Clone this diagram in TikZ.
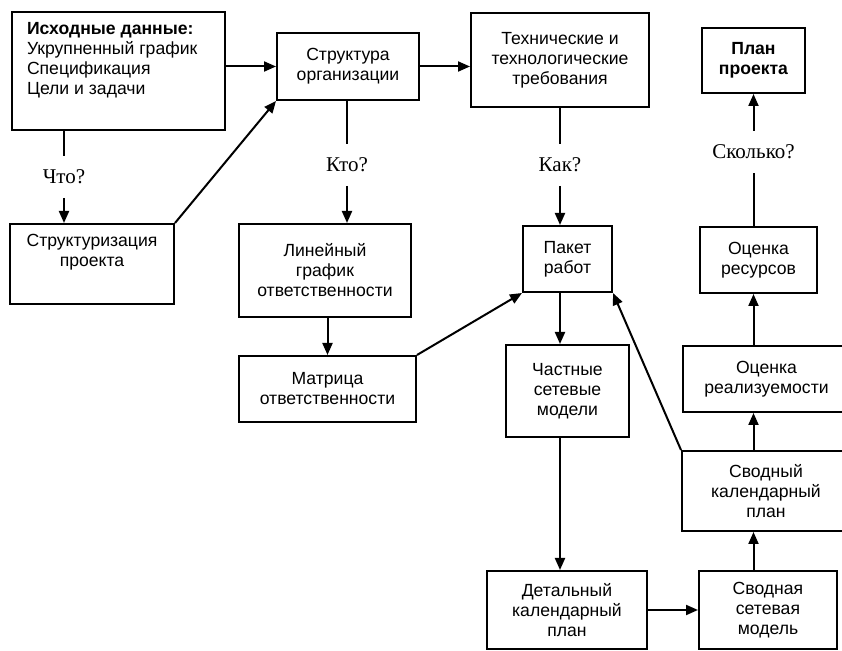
\documentclass[tikz,border=0pt]{standalone}
\usepackage{fontspec}
\setmainfont{Liberation Serif}
\setsansfont{Liberation Sans}
\usetikzlibrary{arrows.meta}
\tikzstyle{box}=[
    draw,
    line width = 1pt,
    rectangle,
    align = center,
    inner sep = 2pt,
    font = \sffamily\fontsize{8.8}{10}\selectfont
]

\begin{document}
\begin{tikzpicture}[x=0.5pt, y=-0.5pt, line width=1pt,
    ask/.style = {inner sep=0pt, minimum height=20pt, font=\fontsize{10.5}{12}\selectfont},
    arr/.style = {-{Triangle[length=6pt, width=5pt]}}]
        \clip (0,0) rectangle (842,651);

        \node[box, minimum width=106.5pt, minimum height=59pt, inner xsep=7.5pt, inner ysep=5pt] (src) at (118.5,71)
            {\parbox[c][49pt][t]{91.5pt}{\raggedright\textbf{Исходные данные:}\\Укрупненный график\\Спецификация\\Цели и задачи}};
        \node[box, minimum width=71pt, minimum height=33.5pt] (org) at (348,66.5) {Структура\\организации};
        \node[box, minimum width=89pt, minimum height=47pt] (tech) at (560,60) {Технические и\\технологические\\требования};
        \node[box, minimum width=51.5pt, minimum height=32.5pt] (plan) at (753.5,60.5) {\textbf{План}\\\textbf{проекта}};
        \node[box, minimum width=82pt, minimum height=40pt, inner ysep=5pt] (wbs) at (92,264)
            {\parbox[c][30pt][t]{78pt}{\centering Структуризация\\проекта}};
        \node[box, minimum width=86pt, minimum height=46.5pt] (lin) at (325,270.5) {Линейный\\график\\ответственности};
        \node[box, minimum width=88.5pt, minimum height=33pt] (mat) at (327.5,389) {Матрица\\ответственности};
        \node[box, minimum width=44.5pt, minimum height=33pt] (pack) at (567.5,259) {Пакет\\работ};
        \node[box, minimum width=58.5pt, minimum height=33pt] (res) at (758.5,260) {Оценка\\ресурсов};
        \node[box, minimum width=61.5pt, minimum height=46pt] (part) at (567.5,391) {Частные\\сетевые\\модели};
        \node[box, minimum width=83.5pt, minimum height=33pt] (feas) at (766.5,379) {Оценка\\реализуемости};
        \node[box, minimum width=84pt, minimum height=40pt] (cal) at (766,491) {Сводный\\календарный\\план};
        \node[box, minimum width=80pt, minimum height=39pt] (det) at (567,610) {Детальный\\календарный\\план};
        \node[box, minimum width=69pt, minimum height=39pt] (net) at (768,610) {Сводная\\сетевая\\модель};

        \node[ask] (what) at (64,177) {Что?};
        \node[ask] (who) at (347,165) {Кто?};
        \node[ask] (how) at (560,165) {Как?};
        \node[ask] (much) at (753.5,152) {Сколько?};

        \draw[arr] (src.east |- org.west) -- (org.west);
        \draw[arr] (org.east) -- (org.east -| tech.west);
        \draw (src.south -| what) -- (what.north);
        \draw[arr] (what.south) -- (wbs.north -| what);
        \draw[arr] (wbs.north east) -- (org.south west);
        \draw (org.south -| who) -- (who.north);
        \draw[arr] (who.south) -- (lin.north -| who);
        \draw (tech.south) -- (how.north);
        \draw[arr] (how.south) -- (pack.north -| how);
        \draw[arr] (lin.south -| mat.north) -- (mat.north);
        \draw[arr] (mat.north east) -- (pack.south west);
        \draw[arr] (pack.south -| how) -- (part.north -| how);
        \draw[arr] (part.south -| how) -- (det.north -| how);
        \draw[arr] (det.east) -- (net.west);
        \draw[arr] (net.north -| much) -- (cal.south -| much);
        \draw[arr] (cal.north west) -- (pack.south east);
        \draw[arr] (cal.north -| much) -- (feas.south -| much);
        \draw[arr] (feas.north -| much) -- (res.south -| much);
        \draw (res.north -| much) -- (much.south);
        \draw[arr] (much.north) -- (plan.south);

    \end{tikzpicture}
\end{document}
